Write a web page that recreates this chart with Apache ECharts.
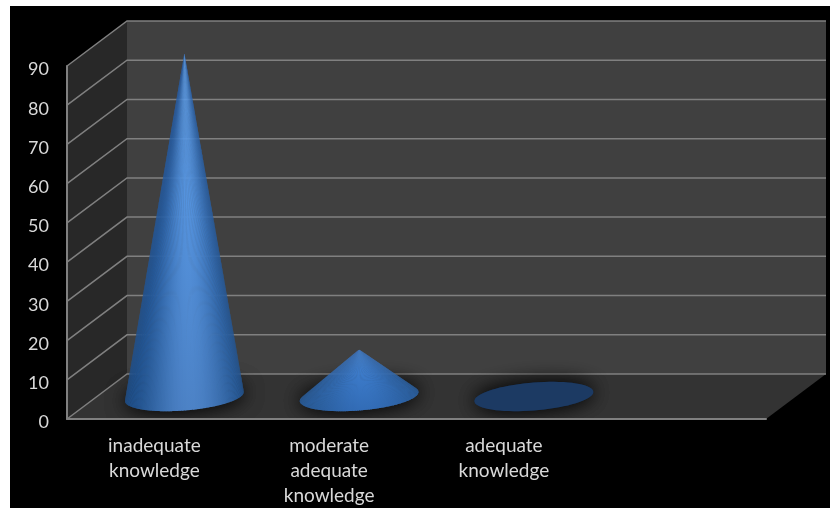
<!DOCTYPE html>
<html>
<head>
<meta charset="utf-8">
<style>
  html, body { margin: 0; padding: 0; background: #fff; }
  #chart { width: 830px; height: 508px; }
</style>
<script src="https://cdn.jsdelivr.net/npm/echarts@6/dist/echarts.min.js"></script>
</head>
<body>
<div id="chart"></div>
<script>
// Knowledge level shares, shown as 3D-looking cones on a box-shaped plot.
const categories = ['inadequate\nknowledge', 'moderate\nadequate\nknowledge', 'adequate\nknowledge', ''];
const shares = [87.5, 12, 0];
const gridValues = [10, 20, 30, 40, 50, 60, 70, 80, 90];

// Box depth: how far the back wall is shifted from the front plane, in pixels.
const DEPTH_X = 60;
const DEPTH_Y = 45;
const CONE_WIDTH_RATIO = 0.68;
const BASE_MINOR = 14;
const BASE_TILT = 0.076;

const LINE_COLOR = '#808080';
const TEXT_COLOR = '#d9d9d9';

const coneShades = [
  { tipEdge: [38, 96, 172], tipMid: [90, 158, 238], baseEdge: [30, 78, 136], baseMid: [76, 130, 198] },
  { tipEdge: [58, 120, 200], tipMid: [66, 132, 214], baseEdge: [40, 90, 150], baseMid: [50, 108, 182] }
];
const FLAT_CONE_COLOR = '#1c3a63';

const rgb = (c) => `rgb(${c.map(Math.round).join(',')})`;
const mix = (a, b, f) => a.map((v, i) => v + (b[i] - v) * f);

function basePoint(cx, cy, a, t) {
  return [cx + a * Math.cos(t), cy - BASE_TILT * a * Math.cos(t) + BASE_MINOR * Math.sin(t)];
}

function renderFrame(params, api) {
  const g = params.coordSys;
  const l = g.x, r = g.x + g.width, t = g.y, b = g.y + g.height;
  const poly = (points, fill) => ({ type: 'polygon', shape: { points }, style: { fill } });
  return {
    type: 'group',
    children: [
      poly([[l, b], [l, t], [l + DEPTH_X, t - DEPTH_Y], [l + DEPTH_X, b - DEPTH_Y]], '#282828'),
      poly([[l + DEPTH_X, t - DEPTH_Y], [r + DEPTH_X, t - DEPTH_Y], [r + DEPTH_X, b - DEPTH_Y], [l + DEPTH_X, b - DEPTH_Y]], '#404040'),
      poly([[l, b], [r, b], [r + DEPTH_X, b - DEPTH_Y], [l + DEPTH_X, b - DEPTH_Y]], '#333333'),
      {
        type: 'polyline',
        shape: { points: [[l, b], [l + DEPTH_X, b - DEPTH_Y], [r + DEPTH_X, b - DEPTH_Y]] },
        style: { fill: 'none', stroke: LINE_COLOR, lineWidth: 1.5 }
      }
    ]
  };
}

function renderGridLine(params, api) {
  const g = params.coordSys;
  const p = api.coord([0, api.value(1)]);
  const y = p[1];
  return {
    type: 'polyline',
    shape: {
      points: [[g.x, y], [g.x + DEPTH_X, y - DEPTH_Y], [g.x + g.width + DEPTH_X, y - DEPTH_Y]]
    },
    style: { fill: 'none', stroke: LINE_COLOR, lineWidth: 1.5 }
  };
}

function renderCone(params, api) {
  const idx = api.value(0);
  const val = api.value(1);
  const band = api.size([1, 0])[0];
  const foot = api.coord([idx, 0]);
  const top = api.coord([idx, val]);
  const cx = foot[0] + DEPTH_X / 2;
  const cy = foot[1] - DEPTH_Y / 2;
  const tip = [top[0] + DEPTH_X / 2, top[1] - DEPTH_Y / 2];
  const a = band * CONE_WIDTH_RATIO / 2;

  const outline = [];
  for (let i = 0; i < 72; i++) {
    outline.push(basePoint(cx, cy, a, (i / 72) * Math.PI * 2));
  }
  // The floor shadow is laid down twice so the halo around the base reads darker.
  const halo = {
    type: 'polygon',
    shape: { points: outline },
    style: { fill: val > 0 ? '#222' : FLAT_CONE_COLOR, shadowBlur: 20, shadowColor: 'rgba(0,0,0,0.65)' }
  };
  const children = [halo, Object.assign({}, halo)];

  if (val > 0) {
    // Silhouette tangents: the base points seen at the widest angle from the tip.
    const angle = (p) => Math.atan2(p[0] - tip[0], p[1] - tip[1]);
    let tRight = 0, tLeft = Math.PI, best = -Infinity, least = Infinity;
    for (let i = 0; i <= 180; i++) {
      const t = -Math.PI / 2 + (i / 180) * Math.PI * 2;
      const ang = angle(basePoint(cx, cy, a, t));
      if (t < Math.PI / 2 && ang > best) { best = ang; tRight = t; }
      if (t >= Math.PI / 2 && ang < least) { least = ang; tLeft = t; }
    }
    const shade = coneShades[idx];
    const slices = 120;
    for (let i = 0; i < slices; i++) {
      const t0 = tRight + (tLeft - tRight) * (i / slices);
      const t1 = tRight + (tLeft - tRight) * ((i + 1.6) / slices);
      const p0 = basePoint(cx, cy, a, t0);
      const p1 = basePoint(cx, cy, a, Math.min(t1, tLeft));
      const mid = [(p0[0] + p1[0]) / 2, (p0[1] + p1[1]) / 2];
      const u = (mid[0] - (cx - a)) / (2 * a);
      const lit = Math.pow(Math.max(0, Math.cos((u - 0.55) * Math.PI * 0.95)), 1.6);
      const fill = {
        type: 'linear', global: true,
        x: tip[0], y: tip[1], x2: mid[0], y2: mid[1],
        colorStops: [
          { offset: 0, color: rgb(mix(shade.tipEdge, shade.tipMid, lit)) },
          { offset: 1, color: rgb(mix(shade.baseEdge, shade.baseMid, lit)) }
        ]
      };
      children.push({
        type: 'polygon',
        shape: { points: [tip, p0, p1] },
        style: { fill }
      });
    }
  }
  return { type: 'group', children };
}

const chart = echarts.init(document.getElementById('chart'), null, { renderer: 'canvas' });
chart.setOption({
  animation: false,
  graphic: [{
    type: 'rect', z: -10, silent: true,
    shape: { x: 10, y: 6, width: 820, height: 502 },
    style: { fill: '#000' }
  }],
  grid: { left: 67, right: 64, top: 66, bottom: 88, containLabel: false },
  xAxis: {
    type: 'category',
    data: categories,
    axisTick: { show: false },
    axisLine: { lineStyle: { color: LINE_COLOR, width: 2 } },
    axisLabel: {
      interval: 0, color: TEXT_COLOR, fontFamily: 'Lato', fontSize: 19,
      lineHeight: 25, margin: 14
    },
    z: 5
  },
  yAxis: {
    type: 'value', min: 0, max: 90, interval: 10,
    splitLine: { show: false },
    axisTick: { show: false },
    axisLine: { show: true, lineStyle: { color: LINE_COLOR, width: 2 } },
    axisLabel: {
      color: TEXT_COLOR, fontFamily: 'Lato', fontSize: 18, margin: 18,
      verticalAlign: 'top', lineHeight: 7
    },
    z: 5
  },
  series: [
    { type: 'custom', silent: true, z: 1, data: [[0, 0]], renderItem: renderFrame },
    { type: 'custom', silent: true, z: 2, data: gridValues.map((v) => [0, v]), renderItem: renderGridLine },
    { type: 'custom', silent: true, z: 3, data: shares.map((v, i) => [i, v]), renderItem: renderCone }
  ]
});
</script>
</body>
</html>
